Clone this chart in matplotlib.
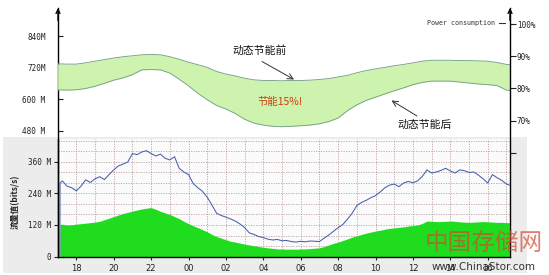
import matplotlib
matplotlib.use("Agg")
import matplotlib.pyplot as plt
import numpy as np
from matplotlib.lines import Line2D
from matplotlib.patches import Rectangle

W, H = 549, 275
CJK = ["Noto Sans CJK SC", "DejaVu Sans"]
MONO = "DejaVu Sans Mono"

# power band (percent of max power), half-hour steps, hours counted from 17:00 day 1
band_hours = np.append(np.arange(17, 41.01, 0.5), 41.2)
band_high = [87.7, 87.6, 87.6, 88.0, 88.5, 89.0, 89.5, 89.9, 90.2, 90.5,
             90.6, 90.5, 89.9, 89.1, 88.2, 87.4, 86.6, 85.3, 84.5, 83.9,
             83.2, 82.7, 82.5, 82.5, 82.4, 82.5, 82.5, 82.6, 82.8, 83.1,
             83.6, 84.1, 84.9, 85.6, 86.1, 86.6, 87.1, 87.5, 88.0, 88.5,
             88.8, 88.8, 88.8, 88.7, 88.7, 88.6, 88.5, 88.1, 87.5, 87.4]
band_low = [79.6, 79.5, 79.6, 80.0, 80.7, 81.6, 82.6, 83.3, 84.3, 85.8,
            85.9, 85.8, 84.8, 82.9, 80.8, 78.5, 76.5, 74.7, 73.6, 72.2,
            70.4, 69.2, 68.6, 68.2, 68.1, 68.2, 68.4, 68.6, 69.0, 69.7,
            70.8, 73.1, 74.9, 76.3, 77.3, 78.3, 79.3, 80.2, 81.2, 81.9,
            82.3, 82.3, 82.3, 82.0, 81.7, 81.4, 81.2, 80.9, 79.5, 79.4]

# traffic (Mbit/s), quarter-hour steps
trf_hours = np.concatenate([[17.12, 17.13], np.arange(17.25, 41.01, 0.25), [41.15]])
trf_line = [0, 280,
            288, 268, 262, 250, 268, 292, 282, 296, 304, 293, 312, 330,
            345, 352, 360, 392, 388, 398, 403, 392, 383, 390, 374, 368,
            380, 336, 322, 312, 278, 262, 248, 226, 196, 165, 156, 150,
            143, 135, 124, 110, 90, 84, 76, 72, 66, 63, 65, 60,
            61, 57, 55, 58, 56, 59, 58, 57, 70, 82, 96, 110,
            122, 142, 165, 194, 206, 214, 224, 232, 246, 262, 272, 276,
            266, 280, 286, 281, 288, 305, 330, 318, 322, 328, 336, 326,
            318, 330, 327, 320, 322, 310, 296, 280, 312, 300, 290, 276,
            272]
trf_area = [0, 122,
            123, 120, 121, 123, 125, 127, 129, 131, 134, 140, 146, 152,
            158, 164, 168, 173, 177, 181, 184, 186, 180, 172, 166, 160,
            152, 144, 134, 125, 117, 110, 102, 94, 84, 76, 70, 64,
            58, 55, 51, 47, 44, 41, 38, 35, 33, 31, 29, 28.5,
            28, 28, 28, 28.5, 29, 30, 31.5, 33, 38, 44, 50, 55,
            61, 67, 74, 79, 84, 89, 93, 97, 100, 104, 107, 109,
            111, 113, 116, 118, 120, 126, 135, 134, 133, 133, 134, 135,
            134, 132, 131, 130, 131, 132, 133, 132, 131, 130, 130, 129,
            129]

x_ticks = np.arange(18, 41, 2)
x_labels = ["18", "20", "22", "00", "02", "04", "06", "08", "10", "12", "14", "16"]
top_yticks = [480, 600, 720, 840]
top_ylabels = ["480 M", "600 M", "720M", "840M"]
bot_yticks = [0, 120, 240, 360]
bot_ylabels = ["0", "120 M", "240 M", "360 M"]
pct_ticks = [60, 70, 80, 90, 100]
pct_labels = ["", "70%", "80%", "90%", "100%"]


def fx(px):
    return px / W


def fy(py):
    return 1 - py / H


fig = plt.figure(figsize=(W / 100, H / 100), dpi=100)
fig.patch.set_facecolor("white")
fig.add_artist(Rectangle((fx(3), fy(273)), fx(524), (273 - 137) / H,
                         transform=fig.transFigure, facecolor="#ececec",
                         edgecolor="none", zorder=0))

xlim = (17.02, 41.19)

# lower chart: traffic
ax_b = fig.add_axes([fx(58), fy(257), fx(452), (257 - 139) / H])
ax_b.set_facecolor("#fbfbfb")
ax_b.set_xlim(xlim)
ax_b.set_ylim(-1.9, 447.6)
ax_b.fill_between(trf_hours, 0, trf_area, color="#1fdc1f", lw=0, zorder=2)
ax_b.plot(trf_hours, trf_line, color="#4660ac", lw=0.75, zorder=3)
ax_b.set_xticks(x_ticks)
ax_b.set_xticklabels(x_labels)
ax_b.set_xticks(np.arange(18, 41.1, 1), minor=True)
ax_b.set_yticks(bot_yticks)
ax_b.set_yticklabels(bot_ylabels)
ax_b.set_yticks(np.arange(40, 441, 40), minor=True)
ax_b.grid(which="both", linestyle=(0, (2, 2)), color="#a88080", lw=0.45, zorder=1)
ax_b.set_axisbelow(True)
ax_b.tick_params(axis="x", which="major", length=2, labelsize=6, pad=3, colors="#222")
ax_b.tick_params(axis="y", which="major", length=3, labelsize=5.5, pad=2, colors="#222")
ax_b.tick_params(which="minor", length=0)
for lab in ax_b.get_yticklabels():
    lab.set_family(MONO)
for s in ["top", "right"]:
    ax_b.spines[s].set_visible(False)
ax_b.spines["left"].set_linewidth(1.0)
ax_b.spines["bottom"].set_linewidth(1.0)

# upper chart: power band, shares the same value scale on the left
ax_t = fig.add_axes([fx(58), fy(257), fx(452), (257 - 8) / H])
ax_t.patch.set_visible(False)
ax_t.set_xlim(xlim)
ax_t.set_ylim(-1.9, 946.7)
ax_t.set_xticks([])
ax_t.set_yticks(top_yticks)
ax_t.set_yticklabels(top_ylabels)
ax_t.tick_params(axis="y", direction="in", length=3.5, labelsize=5.5, pad=9, colors="#222")
for lab in ax_t.get_yticklabels():
    lab.set_family(MONO)
for s in ["top", "bottom", "right"]:
    ax_t.spines[s].set_visible(False)
ax_t.spines["left"].set_linewidth(1.0)

ax_r = ax_t.twinx()
ax_r.set_xlim(xlim)
ax_r.set_ylim(27.5, 105.08)
ax_r.fill_between(band_hours, band_low, band_high, color="#cdf3ae", lw=0)
ax_r.plot(band_hours, band_high, color="#76a08a", lw=0.65)
ax_r.plot(band_hours, band_low, color="#76a08a", lw=0.65)
ax_r.set_yticks(pct_ticks)
ax_r.set_yticklabels(pct_labels)
ax_r.tick_params(axis="y", direction="out", length=4, labelsize=5.5, pad=1, colors="#222")
for lab in ax_r.get_yticklabels():
    lab.set_family(MONO)
for s in ["top", "bottom", "left"]:
    ax_r.spines[s].set_visible(False)
ax_r.spines["right"].set_linewidth(1.0)

for xa in (0, 1):
    ax_t.annotate("", xy=(xa, 1), xycoords="axes fraction", xytext=(xa, 0.95),
                  arrowprops=dict(arrowstyle="->", lw=1.0, color="black",
                                  shrinkA=0, shrinkB=0, mutation_scale=7))

# annotations
fig.text(fx(260), fy(51), "动态节能前", ha="center", va="center", fontsize=7.8, family=CJK, color="#111")
fig.text(fx(280), fy(102), "节能15%!", ha="center", va="center", fontsize=7.5, family=CJK, color="#c8400f")
fig.text(fx(425), fy(125), "动态节能后", ha="center", va="center", fontsize=7.8, family=CJK, color="#111")
ax_t.annotate("", xy=(fx(294), fy(79.5)), xycoords="figure fraction",
              xytext=(fx(262), fy(61.5)), textcoords="figure fraction",
              arrowprops=dict(arrowstyle="->", color="#333", lw=0.7, shrinkA=0, shrinkB=0))
ax_t.annotate("", xy=(fx(391.5), fy(100.5)), xycoords="figure fraction",
              xytext=(fx(417), fy(116)), textcoords="figure fraction",
              arrowprops=dict(arrowstyle="->", color="#333", lw=0.7, shrinkA=0, shrinkB=0))

fig.text(fx(427), fy(22.7), "Power consumption", ha="left", va="center", fontsize=4.8, family=MONO, color="#333")
fig.add_artist(Line2D([fx(499), fx(505)], [fy(22.7), fy(22.7)], color="#333", lw=0.8))

fig.text(fx(15), fy(202), "流量值(bits/s)", rotation=90, ha="center", va="center",
         fontsize=6, family=CJK, color="#222", weight="bold")

# watermark
fig.text(fx(484), fy(243), "中国存储网", ha="center", va="center", fontsize=17,
         family=CJK, color="#d24a30", alpha=0.7)
fig.text(fx(484), fy(267), "www.ChinaStor.com", ha="center", va="center", fontsize=7.5,
         family="DejaVu Sans", color="#333")

fig.savefig("out.png", dpi=100)
